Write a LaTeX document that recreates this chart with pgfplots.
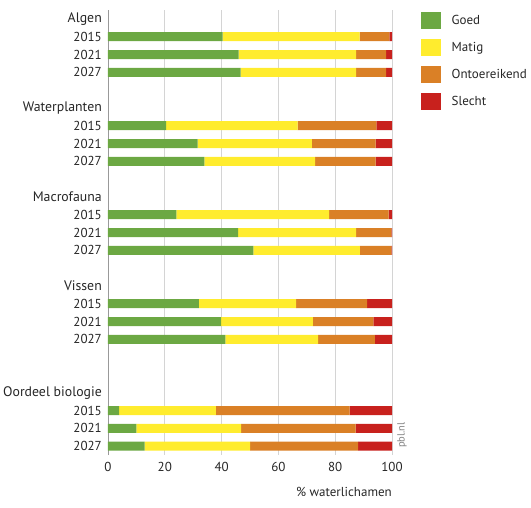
\documentclass[border=0pt]{standalone}
\usepackage{pgfplots}
\pgfplotsset{compat=1.18}
\usepackage{fontspec}
\setmainfont{PT Sans}
\definecolor{goed}{HTML}{6CA843}
\definecolor{matig}{HTML}{FFEC2E}
\definecolor{onto}{HTML}{DA8026}
\definecolor{slecht}{HTML}{C8211D}
\definecolor{gridgray}{HTML}{D4D4D4}
\newcommand{\grp}[1]{{\fontsize{13.8}{16}\selectfont #1}}

\begin{document}
\begin{tikzpicture}[x=1pt,y=1pt]
\path[use as bounding box] (0,0) rectangle (531,507);
\begin{axis}[
  at={(108pt,52pt)}, anchor=south west,
  scale only axis,
  width=284pt, height=445pt,
  xbar stacked,
  bar width=9pt,
  y dir=reverse,
  xmin=0, xmax=100,
  ymin=-0.5, ymax=24.5,
  xtick={0,20,40,60,80,100},
  ytick={0,1,2,3,5,6,7,8,10,11,12,13,15,16,17,18,21,22,23,24},
  yticklabels={\grp{Algen},2015,2021,2027,\grp{Waterplanten},2015,2021,2027,\grp{Macrofauna},2015,2021,2027,\grp{Vissen},2015,2021,2027,\grp{Oordeel biologie},2015,2021,2027},
  major tick length=0pt,
  xmajorgrids,
  grid style={gridgray, line width=0.8pt},
  axis line style={draw=none},
  tick label style={font=\fontsize{13}{15}\selectfont, text=black!85},
  yticklabel style={anchor=east, inner sep=0pt, xshift=-6pt},
  xticklabel style={inner sep=0pt, yshift=-7pt},
  /pgf/number format/assume math mode=true,
  xlabel={\% waterlichamen},
  xlabel style={font=\fontsize{13}{15}\selectfont, text=black!85, at={(rel axis cs:1,0)}, anchor=north east, yshift=-32pt, inner sep=0pt},
  legend style={at={(rel axis cs:1,1)}, anchor=north west, xshift=29pt, yshift=-1.5pt, draw=none, fill=none,
    font=\fontsize{13}{15}\selectfont, text=black!85, row sep=10pt, inner sep=0pt,
    /tikz/every odd column/.append style={column sep=8.5pt}},
  legend cell align=left,
  legend image code/.code={\fill[#1] (0pt,-8.5pt) rectangle (20pt,8.5pt);},
]
\addplot[fill=goed, draw=none] coordinates {
  (40.4,1) (46.0,2) (46.7,3)
  (20.5,6) (31.6,7) (33.9,8)
  (24.1,11) (45.8,12) (51.2,13)
  (32.0,16) (39.8,17) (41.3,18)
  (3.9,22) (10.0,23) (12.9,24)
};
\addplot[fill=matig, draw=none] coordinates {
  (48.2,1) (41.4,2) (40.7,3)
  (46.3,6) (40.2,7) (39.0,8)
  (53.8,11) (41.6,12) (37.5,13)
  (34.2,16) (32.3,17) (32.7,18)
  (34.1,22) (36.9,23) (37.1,24)
};
\addplot[fill=onto, draw=none] coordinates {
  (10.5,1) (10.5,2) (10.5,3)
  (27.7,6) (22.4,7) (21.3,8)
  (20.9,11) (12.4,12) (11.1,13)
  (25.0,16) (21.3,17) (20.0,18)
  (47.1,22) (40.3,23) (38.1,24)
};
\addplot[fill=slecht, draw=none] coordinates {
  (0.9,1) (2.1,2) (2.1,3)
  (5.5,6) (5.8,7) (5.8,8)
  (1.2,11) (0.2,12) (0.2,13)
  (8.8,16) (6.6,17) (6.0,18)
  (14.9,22) (12.8,23) (11.9,24)
};
\legend{Goed, Matig, Ontoereikend, Slecht}
\draw[black!40, line width=0.8pt] (rel axis cs:0,0) -- (rel axis cs:0,1);
\end{axis}
\node[rotate=90, font=\fontsize{10.5}{12}\selectfont, text=black!50, inner sep=0pt] at (402,72) {pbl.nl};
\end{tikzpicture}
\end{document}
